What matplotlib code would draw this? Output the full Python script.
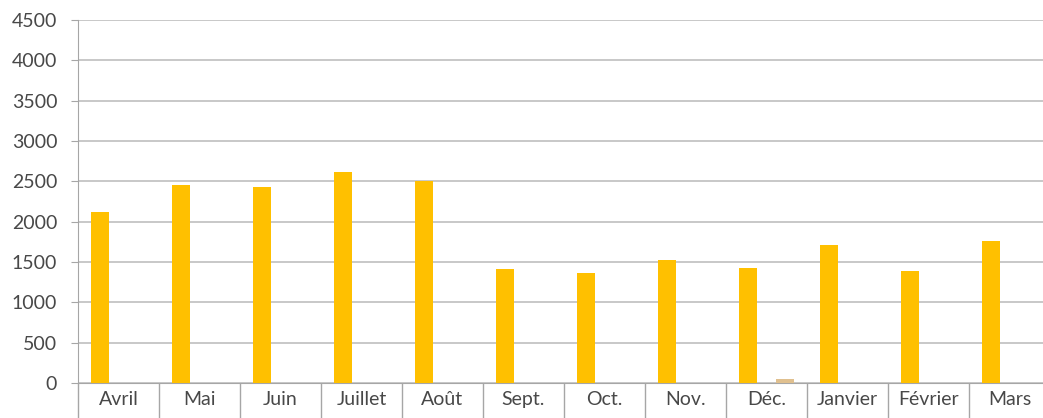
import numpy as np
import matplotlib.pyplot as plt
from matplotlib.ticker import FixedLocator

# Données
mois = ['Avril', 'Mai', 'Juin', 'Juillet', 'Août', 'Sept.', 'Oct.', 'Nov.',
        'Déc.', 'Janvier', 'Février', 'Mars']
serie1 = [2120, 2460, 2430, 2620, 2510, 1410, 1360, 1530, 1430, 1710, 1390, 1760]
serie2 = [0, 0, 0, 0, 0, 0, 0, 0, 50, 0, 0, 0]
yticks = list(range(0, 5000, 500))

plt.rcParams['font.family'] = ['Lato', 'DejaVu Sans']

fig = plt.figure(figsize=(10.43, 4.18), dpi=100)
ax = fig.add_axes([78 / 1043, 35 / 418, 972 / 1043, 363 / 418])

x = np.arange(len(mois))
ax.bar(x - 0.225, serie1, width=0.22, color='#FFC000', zorder=3)
ax.bar(x + 0.225, serie2, width=0.22, color='#E0C08F', zorder=3)

ax.set_xlim(-0.5, len(mois) - 0.5)
ax.set_ylim(0, 4500)
ax.set_yticks(yticks)
ax.yaxis.grid(True, color='#BFBFBF', linewidth=1.2, zorder=0)

ax.set_xticks(x)
ax.set_xticklabels(mois)
ax.xaxis.set_minor_locator(FixedLocator(np.arange(-0.5, len(mois), 1)))
ax.tick_params(axis='x', which='major', length=0, pad=6, labelsize=14, labelcolor='#484848')
ax.tick_params(axis='x', which='minor', length=26, color='#A6A6A6', width=1)
ax.tick_params(axis='y', length=5, color='#A6A6A6', labelsize=14, labelcolor='#484848', pad=10)

for s in ['top', 'right']:
    ax.spines[s].set_visible(False)
ax.spines['left'].set_color('#A6A6A6')
ax.spines['bottom'].set_color('#A6A6A6')

fig.savefig('out.png', dpi=100)
